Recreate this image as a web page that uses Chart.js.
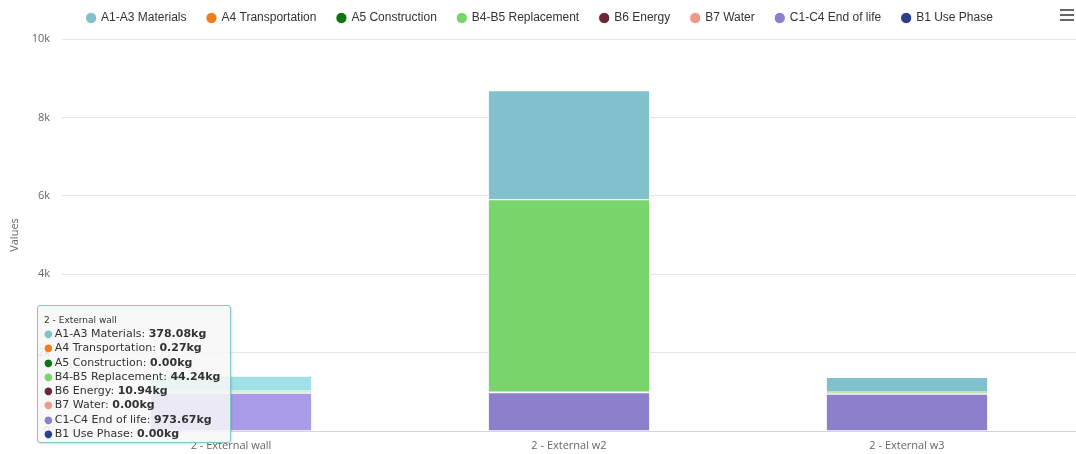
<!DOCTYPE html>
<html>
<head>
<meta charset="utf-8">
<script src="https://cdn.jsdelivr.net/npm/chart.js@4.4.0/dist/chart.umd.min.js"></script>
<style>
  body { margin: 0; background: #fff; }
  #wrap { position: relative; width: 1076px; height: 454px; }
  #menu { position: absolute; right: 2px; top: 9px; width: 14px; }
  #menu div { height: 2px; background: #666; margin-bottom: 3px; }
  #tip {
    position: absolute; left: 37px; top: 305px; width: 180px;
    background: rgba(247,247,247,0.85); border: 1px solid #86c3cc; border-radius: 3px;
    padding: 8px 6px 1px 6px; font-family: "DejaVu Sans", sans-serif; color: #333;
    box-shadow: 1px 1px 2px rgba(0,0,0,0.12); pointer-events: none; display: none;
  }
  #tip .t { font-size: 9px; line-height: 12px; margin-bottom: 1px; }
  #tip .r { font-size: 11px; line-height: 14.3px; white-space: nowrap; }
  #tip .d { font-size: 10px; margin-right: 2px; }
</style>
</head>
<body>
<div id="wrap">
  <canvas id="grafica" width="1076" height="454"></canvas>
  <div id="menu"><div></div><div></div><div></div></div>
  <div id="tip"></div>
</div>
<script>
const categories = ['2 - External wall', '2 - External w2', '2 - External w3'];
const seriesNames = ['A1-A3 Materials', 'A4 Transportation', 'A5 Construction', 'B4-B5 Replacement',
                     'B6 Energy', 'B7 Water', 'C1-C4 End of life', 'B1 Use Phase'];
const a1a3 = [378.08, 2775, 375];
const a4 = [0.27, 5, 0.3];
const a5 = [0, 0, 0];
const b4b5 = [44.24, 4900, 40];
const b6 = [10.94, 20, 10];
const b7 = [0, 0, 0];
const c1c4 = [973.67, 990, 950];
const b1 = [0, 0, 0];
const yTicks = [0, 2000, 4000, 6000, 8000, 10000];

const colors = ['#80c1cb', '#f07f1a', '#0f760f', '#77d56b', '#6d2639', '#ee9a86', '#8e7fcd', '#2b3f8c'];
const hoverColors = ['#a0e0e6', '#ff9a3a', '#2a962a', '#97f08b', '#8d4659', '#ffbaa6', '#a99be8', '#4b5fac'];
const values = [a1a3, a4, a5, b4b5, b6, b7, c1c4, b1];

const datasets = seriesNames.map((name, i) => ({
  label: name,
  data: values[i],
  backgroundColor: colors[i],
  hoverBackgroundColor: hoverColors[i],
  borderColor: '#ffffff',
  hoverBorderColor: '#ffffff',
  borderWidth: 1,
  order: seriesNames.length - 1 - i
}));

function externalTip(ctx) {
  const el = document.getElementById('tip');
  const tt = ctx.tooltip;
  if (tt.opacity === 0) { el.style.display = 'none'; return; }
  const pts = tt.dataPoints.slice().sort((a, b) => a.datasetIndex - b.datasetIndex);
  let html = '<div class="t">' + pts[0].label + '</div>';
  pts.forEach(p => {
    html += '<div class="r"><span class="d" style="color:' + colors[p.datasetIndex] + '">\u25CF</span>' +
      p.dataset.label + ': <b>' + p.raw.toFixed(2) + 'kg</b></div>';
  });
  el.innerHTML = html;
  el.style.display = 'block';
}

// legend sits a bit higher than chart.js puts it
const legendShift = {
  id: 'legendShift',
  beforeInit(chart) {
    const fit = chart.legend.fit;
    chart.legend.fit = function () { fit.call(this); this.height += 5; };
  }
};

const chart = new Chart(document.getElementById('grafica').getContext('2d'), {
  type: 'bar',
  data: { labels: categories, datasets: datasets },
  plugins: [legendShift],
  options: {
    responsive: false,
    animation: false,
    layout: { padding: { left: 4, right: 0, top: -9, bottom: 0 } },
    datasets: { bar: { categoryPercentage: 1, barPercentage: 0.48 } },
    interaction: { mode: 'index', intersect: false },
    plugins: {
      legend: {
        position: 'top',
        labels: {
          sort: (a, b) => a.datasetIndex - b.datasetIndex,
          usePointStyle: true, pointStyle: 'circle', boxWidth: 8, boxHeight: 8,
          padding: 21, color: '#333',
          font: { family: '"Liberation Sans", Arial, sans-serif', size: 12 }
        }
      },
      tooltip: { enabled: false, external: externalTip }
    },
    scales: {
      x: {
        stacked: true,
        afterFit: axis => { axis.height = 23; },
        grid: { display: false, drawTicks: false },
        border: { color: '#ccd6eb' },
        ticks: { color: '#666', padding: 8, font: { family: '"Open Sans", sans-serif', size: 11 } }
      },
      y: {
        stacked: true,
        min: 0, max: 10000,
        afterBuildTicks: axis => { axis.ticks = yTicks.map(v => ({ value: v })); },
        afterFit: axis => { axis.width = 58; },
        grid: { color: '#e6e6e6', drawTicks: false },
        border: { display: false },
        title: { display: true, text: 'Values', color: '#666', font: { family: '"Open Sans", sans-serif', size: 11 } },
        ticks: {
          color: '#666', padding: 12,
          font: { family: '"Open Sans", sans-serif', size: 11 },
          callback: v => v === 0 ? '0' : (v / 1000) + 'k'
        }
      }
    }
  }
});

const active = datasets.map((d, i) => ({ datasetIndex: i, index: 0 }));
chart.setActiveElements(active);
chart.tooltip.setActiveElements(active, { x: 233, y: 380 });
chart.update();
</script>
</body>
</html>
